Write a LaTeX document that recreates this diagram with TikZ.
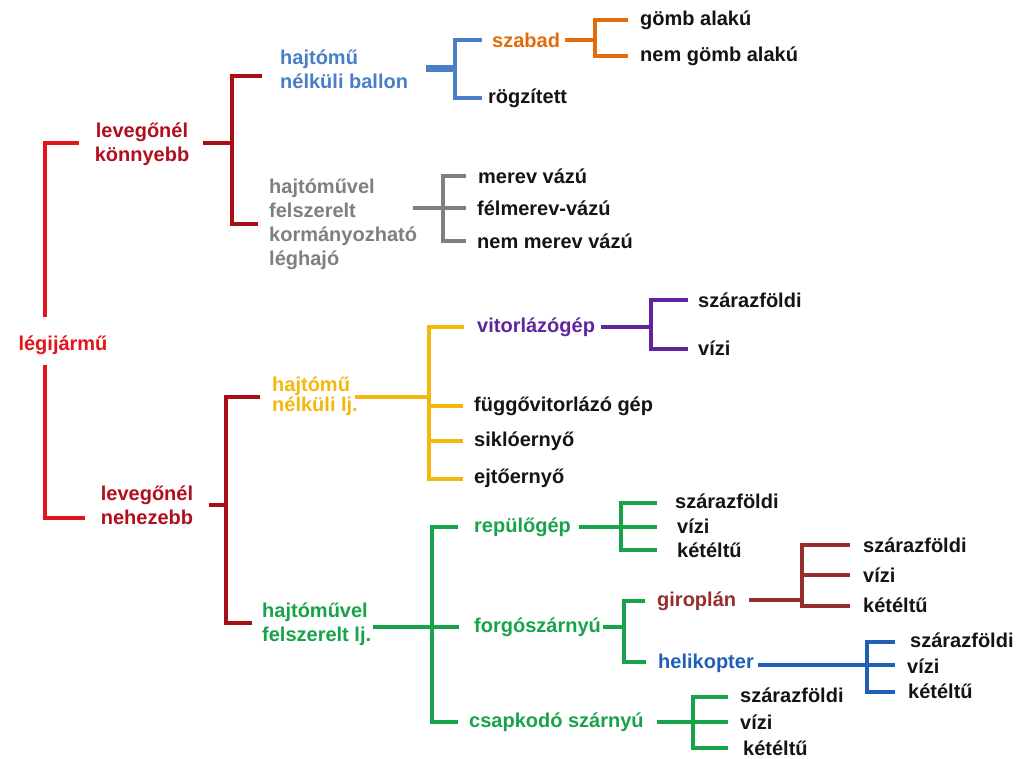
\documentclass[tikz,border=0pt]{standalone}
\usepackage{fontspec}
\setmainfont{Liberation Sans}
\definecolor{cRed}{HTML}{E3141B}
\definecolor{cDRed}{HTML}{B0101E}
\definecolor{cDRedL}{HTML}{A50F15}
\definecolor{cBlue}{HTML}{4A7EC6}
\definecolor{cOr}{HTML}{E36C0A}
\definecolor{cGray}{HTML}{7F7F7F}
\definecolor{cYel}{HTML}{F4B80C}
\definecolor{cPur}{HTML}{5F259F}
\definecolor{cGreen}{HTML}{17A34A}
\definecolor{cGiro}{HTML}{952E2E}
\definecolor{cHeli}{HTML}{1F5FB8}
\definecolor{leaf}{HTML}{141414}
\begin{document}
\begin{tikzpicture}[x=1pt,y=-1pt,
  every node/.style={font=\fontsize{20}{24}\selectfont\bfseries, inner sep=0pt},
  lf/.style={anchor=west,text=leaf},
  cat/.style={anchor=west,align=left},
  br/.style={line width=4pt,line join=miter}]
\useasboundingbox[fill=white] (0,0) rectangle (1028,758);
% ---------- nodes ----------
\node[text=cRed] (root) at (63,345) {légijármű};
\node[text=cDRed,align=center] (lk) at (142,144) {levegőnél\\könnyebb};
\node[text=cDRed,align=center] (ln) at (147,505) {levegőnél\\nehezebb};
\node[cat,text=cBlue] (hb) at (280,69) {hajtómű\\nélküli ballon};
\node[cat,text=cOr] (sz) at (492,40) {szabad};
\node[lf] (gomb) at (640,20) {gömb alakú};
\node[lf] (ngomb) at (640,56) {nem gömb alakú};
\node[lf] (rog) at (488,98) {rögzített};
\node[cat,text=cGray] (hk) at (269,224) {hajtóművel\\felszerelt\\kormányozható\\léghajó};
\node[lf] (mv) at (478,176) {merev vázú};
\node[lf] (fmv) at (477,208) {félmerev-vázú};
\node[lf] (nmv) at (477,241) {nem merev vázú};
\node[cat,text=cYel,font=\fontsize{20}{20.5}\selectfont\bfseries] (hn) at (272,396) {hajtómű\\nélküli lj.};
\node[cat,text=cPur] (vit) at (477,327) {vitorlázógép};
\node[lf] (vsz) at (698,300) {szárazföldi};
\node[lf] (vvi) at (698,348) {vízi};
\node[lf] (fug) at (474,406) {függővitorlázó gép};
\node[lf] (sik) at (474,441) {siklóernyő};
\node[lf] (ejt) at (474,478) {ejtőernyő};
\node[cat,text=cGreen] (hf) at (262,624) {hajtóművel\\felszerelt lj.};
\node[cat,text=cGreen] (rep) at (474,527) {repülőgép};
\node[lf] (rsz) at (675,501) {szárazföldi};
\node[lf] (rvi) at (677,526) {vízi};
\node[lf] (rke) at (677,550) {kétéltű};
\node[cat,text=cGreen] (forg) at (474,627) {forgószárnyú};
\node[cat,text=cGiro] (giro) at (657,601) {giroplán};
\node[lf] (gsz) at (863,545) {szárazföldi};
\node[lf] (gvi) at (863,575) {vízi};
\node[lf] (gke) at (863,605) {kétéltű};
\node[cat,text=cHeli] (heli) at (658,663) {helikopter};
\node[lf] (hsz) at (910,640) {szárazföldi};
\node[lf] (hvi) at (907,666) {vízi};
\node[lf] (hke) at (908,691) {kétéltű};
\node[cat,text=cGreen] (csap) at (469,722) {csapkodó szárnyú};
\node[lf] (csz) at (740,695) {szárazföldi};
\node[lf] (cvi) at (740,722) {vízi};
\node[lf] (cke) at (743,748) {kétéltű};
% ---------- junction coordinates ----------
\coordinate (a0) at (45,143); \coordinate (a1) at (45,518);
\coordinate (b0) at (232,143); \coordinate (b1) at (232,76); \coordinate (b2) at (232,224);
\coordinate (c0) at (455,68); \coordinate (c1) at (455,40); \coordinate (c2) at (455,98);
\coordinate (d0) at (595,40); \coordinate (d1) at (595,20); \coordinate (d2) at (595,56);
\coordinate (e0) at (443,208); \coordinate (e1) at (443,176); \coordinate (e2) at (443,241);
\coordinate (f0) at (226,505); \coordinate (f1) at (226,397); \coordinate (f2) at (226,623);
\coordinate (g0) at (429,397); \coordinate (g1) at (429,327); \coordinate (g2) at (429,479);
\coordinate (h0) at (651,327); \coordinate (h1) at (651,300); \coordinate (h2) at (651,349);
\coordinate (i0) at (432,627); \coordinate (i1) at (432,527); \coordinate (i2) at (432,722);
\coordinate (k0) at (621,527); \coordinate (k1) at (621,503); \coordinate (k2) at (621,550);
\coordinate (m0) at (624,627); \coordinate (m1) at (624,601); \coordinate (m2) at (624,662);
\coordinate (n0) at (802,600); \coordinate (n1) at (802,545); \coordinate (n2) at (802,606);
\coordinate (p0) at (867,665); \coordinate (p1) at (867,642); \coordinate (p2) at (867,692);
\coordinate (q0) at (693,722); \coordinate (q1) at (693,697); \coordinate (q2) at (693,748);
% ---------- connectors ----------
% root
\draw[br,cRed] ([yshift=18]root.north -| a0) -- (a0) -- ([xshift=-16]lk.west |- a0);
\draw[br,cRed] ([yshift=-10]root.south -| a1) -- (a1) -- ([xshift=-16]ln.west |- a1);
% levegonel konnyebb
\draw[br,cDRedL] ([xshift=14]lk.east |- b0) -- (b0);
\draw[br,cDRedL] ([xshift=-18]hb.west |- b1) -- (b1) -- (b2) -- ([xshift=-11]hk.west |- b2);
% ballon
\draw[line width=7pt,cBlue] ([xshift=18]hb.east |- c0) -- (c0);
\draw[br,cBlue] ([xshift=-10]sz.west |- c1) -- (c1) -- (c2) -- ([xshift=-6]rog.west |- c2);
% szabad
\draw[br,cOr] ([xshift=5]sz.east |- d0) -- (d0);
\draw[br,cOr] ([xshift=-12]gomb.west |- d1) -- (d1) -- (d2) -- ([xshift=-12]ngomb.west |- d2);
% leghajo
\draw[br,cGray] ([xshift=-4]hk.east |- e0) -- (e0);
\draw[br,cGray] ([xshift=-12]mv.west |- e1) -- (e1) -- (e2) -- ([xshift=-11]nmv.west |- e2);
\draw[br,cGray] (e0) -- ([xshift=-11]fmv.west |- e0);
% levegonel nehezebb
\draw[br,cDRedL] ([xshift=16]ln.east |- f0) -- (f0);
\draw[br,cDRedL] ([xshift=-12]hn.west |- f1) -- (f1) -- (f2) -- ([xshift=-10]hf.west |- f2);
% hajtomu nelkuli lj.
\draw[br,cYel] ([xshift=-3]hn.east |- g0) -- (g0);
\draw[br,cYel] ([xshift=-13]vit.west |- g1) -- (g1) -- (g2) -- ([xshift=-11]ejt.west |- g2);
\draw[br,cYel] (g0 |- fug.west) -- ([xshift=-11]fug.west);
\draw[br,cYel] (g0 |- sik.west) -- ([xshift=-11]sik.west);
% vitorlazogep
\draw[br,cPur] ([xshift=6]vit.east |- h0) -- (h0);
\draw[br,cPur] ([xshift=-10]vsz.west |- h1) -- (h1) -- (h2) -- ([xshift=-10]vvi.west |- h2);
% hajtomuvel felszerelt lj.
\draw[br,cGreen] ([xshift=2]hf.east |- i0) -- (i0);
\draw[br,cGreen] ([xshift=-16]rep.west |- i1) -- (i1) -- (i2) -- ([xshift=-11]csap.west |- i2);
\draw[br,cGreen] (i0) -- ([xshift=-15]forg.west |- i0);
% repulogep
\draw[br,cGreen] ([xshift=8]rep.east |- k0) -- (k0);
\draw[br,cGreen] ([xshift=-18]rsz.west |- k1) -- (k1) -- (k2) -- ([xshift=-20]rke.west |- k2);
\draw[br,cGreen] (k0) -- ([xshift=-20]rvi.west |- k0);
% forgoszarnyu
\draw[br,cGreen] ([xshift=2]forg.east |- m0) -- (m0);
\draw[br,cGreen] ([xshift=-12]giro.west |- m1) -- (m1) -- (m2) -- ([xshift=-12]heli.west |- m2);
% giroplan
\draw[br,cGiro] ([xshift=13]giro.east |- n0) -- (n0);
\draw[br,cGiro] ([xshift=-13]gsz.west |- n1) -- (n1) -- (n2) -- ([xshift=-13]gke.west |- n2);
\draw[br,cGiro] (n1 |- gvi.west) -- ([xshift=-13]gvi.west);
% helikopter
\draw[br,cHeli] ([xshift=4]heli.east |- p0) -- (p0);
\draw[br,cHeli] ([xshift=-15]hsz.west |- p1) -- (p1) -- (p2) -- ([xshift=-13]hke.west |- p2);
\draw[br,cHeli] (p0) -- ([xshift=-12]hvi.west |- p0);
% csapkodo szarnyu
\draw[br,cGreen] ([xshift=13]csap.east |- q0) -- (q0);
\draw[br,cGreen] ([xshift=-12]csz.west |- q1) -- (q1) -- (q2) -- ([xshift=-15]cke.west |- q2);
\draw[br,cGreen] (q0) -- ([xshift=-12]cvi.west |- q0);
\end{tikzpicture}
\end{document}
